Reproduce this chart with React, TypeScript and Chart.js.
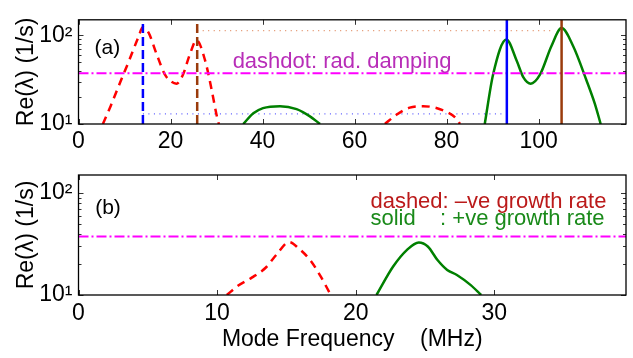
import React, { useEffect, useRef } from 'react';
import { Chart, registerables } from 'chart.js';
Chart.register(...registerables);

// ---------- data: panel (a) ----------
const aXTicks = [0, 20, 40, 60, 80, 100];
const aRed1X = [5.3, 7, 9, 11, 13, 14.0, 15.2, 17.0, 18.8, 20.2, 21.3, 22.7, 24.2, 25.65, 27.5, 28.9, 30.0, 30.5];
const aRed1Y = [10, 16, 29, 52, 95, 124, 108, 61, 36, 30, 28.5, 36, 61, 88.5, 52.5, 24.9, 12.7, 10];
const aRed2X = [66.6, 69.1, 72.0, 74.9, 79.3, 82.2, 82.9];
const aRed2Y = [10, 12.7, 15.3, 15.9, 14.2, 11.4, 10];
const aGreen1X = [35.8, 38.0, 40.1, 43.8, 47.4, 50.3, 52.5];
const aGreen1Y = [10, 13.2, 15.1, 15.9, 14.7, 12.2, 10];
const aGreen2X = [88.3, 90.1, 93.0, 95.2, 96.7, 98.3, 100.3, 102.8, 105.0, 107.5, 110.4, 112.2, 113.5];
const aGreen2Y = [10, 36, 90, 52.5, 33.6, 28.5, 36, 76, 121, 76, 31.2, 17.1, 10];
const aBlueDashX = 14.0;
const aBrownDashX = 25.8;
const aBlueSolidX = 93.1;
const aBrownSolidX = 105.0;
const aBlueDotY = 13.0;
const aBlueDotRange = [14.0, 92.0];
const aBrownDotY = 113.5;
const aBrownDotRange = [25.8, 102.8];
const radDamping = 37.5;

// ---------- data: panel (b) ----------
const bXTicks = [0, 10, 20, 30];
const bRedX = [10.7, 11.5, 12.5, 13.5, 14.3, 15.2, 15.9, 16.7, 17.45, 18.2];
const bRedY = [10, 12.3, 14.8, 18.5, 25, 33, 28.5, 22.1, 15.4, 10];
const bGreenX = [21.5, 22.7, 23.7, 24.55, 25.2, 25.9, 26.6, 27.3, 28.3, 29.05];
const bGreenY = [10, 19, 27.7, 32.7, 29.9, 22, 17.6, 15.7, 12.5, 10];

const yMin = 10;
const yMax = 150;
const yMajor = [10, 100];
const yMinor = [20, 30, 40, 50, 60, 70, 80, 90];

const FONT = '"Liberation Sans", Arial, Helvetica, sans-serif';

const pts = (xs: number[], ys: number[]) => xs.map((x, i) => ({ x, y: ys[i] }));

function makeFrame(xTicks: number[], texts: any[]) {
  return {
    id: 'frame',
    afterDraw(chart: any) {
      const { ctx, chartArea: a, scales } = chart;
      const xs = scales.x, ys = scales.y;
      ctx.save();
      ctx.strokeStyle = '#333';
      ctx.lineWidth = 1;
      ctx.beginPath();
      for (const v of xTicks) {
        const px = Math.round(xs.getPixelForValue(v)) + 0.5;
        ctx.moveTo(px, a.bottom); ctx.lineTo(px, a.bottom - 5);
        ctx.moveTo(px, a.top); ctx.lineTo(px, a.top + 5);
      }
      for (const v of yMajor) {
        const py = Math.round(ys.getPixelForValue(v)) + 0.5;
        ctx.moveTo(a.left, py); ctx.lineTo(a.left + 5, py);
        ctx.moveTo(a.right, py); ctx.lineTo(a.right - 5, py);
      }
      for (const v of yMinor) {
        const py = Math.round(ys.getPixelForValue(v)) + 0.5;
        ctx.moveTo(a.left, py); ctx.lineTo(a.left + 3, py);
        ctx.moveTo(a.right, py); ctx.lineTo(a.right - 3, py);
      }
      ctx.stroke();
      ctx.strokeStyle = '#000';
      ctx.lineWidth = 1.3;
      ctx.strokeRect(a.left, a.top, a.right - a.left, a.bottom - a.top);
      for (const t of texts) {
        ctx.font = `${t.size}px ${FONT}`;
        ctx.fillStyle = t.color;
        ctx.textBaseline = 'middle';
        ctx.textAlign = 'left';
        ctx.fillText(t.text, xs.getPixelForValue(t.x), ys.getPixelForValue(t.y));
      }
      ctx.restore();
    },
  };
}

function line(data: any, color: string, opts: any = {}) {
  return {
    data,
    borderColor: color,
    borderWidth: 2.5,
    pointRadius: 0,
    fill: false,
    cubicInterpolationMode: 'monotone',
    ...opts,
  };
}

function vline(x: number, color: string, dash: number[]) {
  return line([{ x, y: yMin }, { x, y: yMax }], color, { borderDash: dash, tension: 0, cubicInterpolationMode: 'default' });
}

function hline(x0: number, x1: number, y: number, color: string, dash: number[], width: number) {
  return line([{ x: x0, y }, { x: x1, y }], color, { borderDash: dash, borderWidth: width, tension: 0, cubicInterpolationMode: 'default' });
}

function makeChart(canvas: HTMLCanvasElement, p: any) {
  return new Chart(canvas, {
    type: 'line',
    data: { datasets: p.datasets },
    options: {
      animation: false,
      responsive: false,
      devicePixelRatio: 1,
      events: [],
      layout: { padding: p.padding },
      plugins: { legend: { display: false }, tooltip: { enabled: false } },
      scales: {
        x: {
          type: 'linear',
          min: 0,
          max: p.xMax,
          grid: { display: false, drawTicks: false },
          border: { display: false },
          afterBuildTicks: (s: any) => { s.ticks = p.xTicks.map((v: number) => ({ value: v })); },
          afterFit: (s: any) => { s.height = p.xHeight; },
          ticks: {
            autoSkip: false,
            maxRotation: 0,
            padding: p.xPad,
            color: '#000',
            font: { family: FONT, size: 23 },
            callback: (v: any) => String(v),
          },
          title: {
            display: !!p.xTitle,
            text: p.xTitle || '',
            color: '#000',
            font: { family: FONT, size: 23 },
            padding: { top: 0, bottom: 5 },
          },
        },
        y: {
          type: 'logarithmic',
          min: yMin,
          max: yMax,
          grid: { display: false, drawTicks: false },
          border: { display: false },
          afterBuildTicks: (s: any) => { s.ticks = yMajor.map((v) => ({ value: v })); },
          afterFit: (s: any) => { s.width = 78.5; },
          ticks: {
            autoSkip: false,
            padding: 6,
            color: '#000',
            font: { family: FONT, size: 23 },
            callback: (v: any) => (v === 10 ? '10¹' : v === 100 ? '10²' : ''),
          },
          title: {
            display: true,
            text: 'Re(λ) (1/s)',
            color: '#000',
            font: { family: FONT, size: 23 },
            padding: { top: 13, bottom: 0 },
          },
        },
      },
    },
    plugins: [makeFrame(p.xTicks, p.texts)],
  } as any);
}

export default function App() {
  const refA = useRef<HTMLCanvasElement>(null);
  const refB = useRef<HTMLCanvasElement>(null);

  useEffect(() => {
    const magenta = { borderDash: [10, 3, 2, 3], borderWidth: 2, tension: 0, cubicInterpolationMode: 'default' };
    const chartA = makeChart(refA.current!, {
      xMax: 119,
      xTicks: aXTicks,
      xHeight: 40,
      xPad: 4,
      padding: { top: 4, right: 7, left: 0, bottom: 358 - 124 - 40 },
      datasets: [
        vline(aBlueDashX, '#0000ff', [9, 4]),
        vline(aBrownDashX, '#9a3b0c', [9, 4]),
        line([{ x: aBlueSolidX, y: yMin }, { x: aBlueSolidX, y: yMax }], '#0000ff', { tension: 0, cubicInterpolationMode: 'default' }),
        line([{ x: aBrownSolidX, y: yMin }, { x: aBrownSolidX, y: yMax }], '#9a3b0c', { tension: 0, cubicInterpolationMode: 'default' }),
        line([{ x: 0, y: radDamping }, { x: 119, y: radDamping }], '#ff00ff', magenta),
        line(pts(aRed1X, aRed1Y), '#ff0000', { borderDash: [8, 6] }),
        line(pts(aRed2X, aRed2Y), '#ff0000', { borderDash: [8, 6] }),
        line(pts(aGreen1X, aGreen1Y), '#008000'),
        line(pts(aGreen2X, aGreen2Y), '#008000'),
        hline(aBlueDotRange[0], aBlueDotRange[1], aBlueDotY, '#5a5aff', [1, 4.5], 1.2),
        hline(aBrownDotRange[0], aBrownDotRange[1], aBrownDotY, '#e08a60', [1, 4.5], 1.2),
      ],
      texts: [
        { text: '(a)', x: 3.5, y: 71, size: 21, color: '#000' },
        { text: 'dashdot: rad. damping', x: 33.5, y: 50.6, size: 22, color: '#b82db8' },
      ],
    });
    const chartB = makeChart(refB.current!, {
      xMax: 39.5,
      xTicks: bXTicks,
      xHeight: 358 - 295,
      xPad: 5,
      xTitle: 'Mode Frequency    (MHz)',
      padding: { top: 175, right: 7, left: 0, bottom: 0 },
      datasets: [
        line([{ x: 0, y: radDamping }, { x: 39.5, y: radDamping }], '#ff00ff', magenta),
        line(pts(bRedX, bRedY), '#ff0000', { borderDash: [8, 6] }),
        line(pts(bGreenX, bGreenY), '#008000'),
      ],
      texts: [
        { text: '(b)', x: 1.2, y: 71, size: 21, color: '#000' },
        { text: 'dashed: –ve growth rate', x: 21.06, y: 82.6, size: 22, color: '#bb1a1a' },
        { text: 'solid    : +ve growth rate', x: 21.06, y: 55.9, size: 22, color: '#1a8a1a' },
      ],
    });
    return () => { chartA.destroy(); chartB.destroy(); };
  }, []);

  const cs: React.CSSProperties = { position: 'absolute', left: 0, top: 0 };
  return (
    <div style={{ position: 'fixed', left: 0, top: 0, width: 633, height: 358, background: '#fff' }}>
      <canvas ref={refA} width={633} height={358} style={cs} />
      <canvas ref={refB} width={633} height={358} style={cs} />
    </div>
  );
}
